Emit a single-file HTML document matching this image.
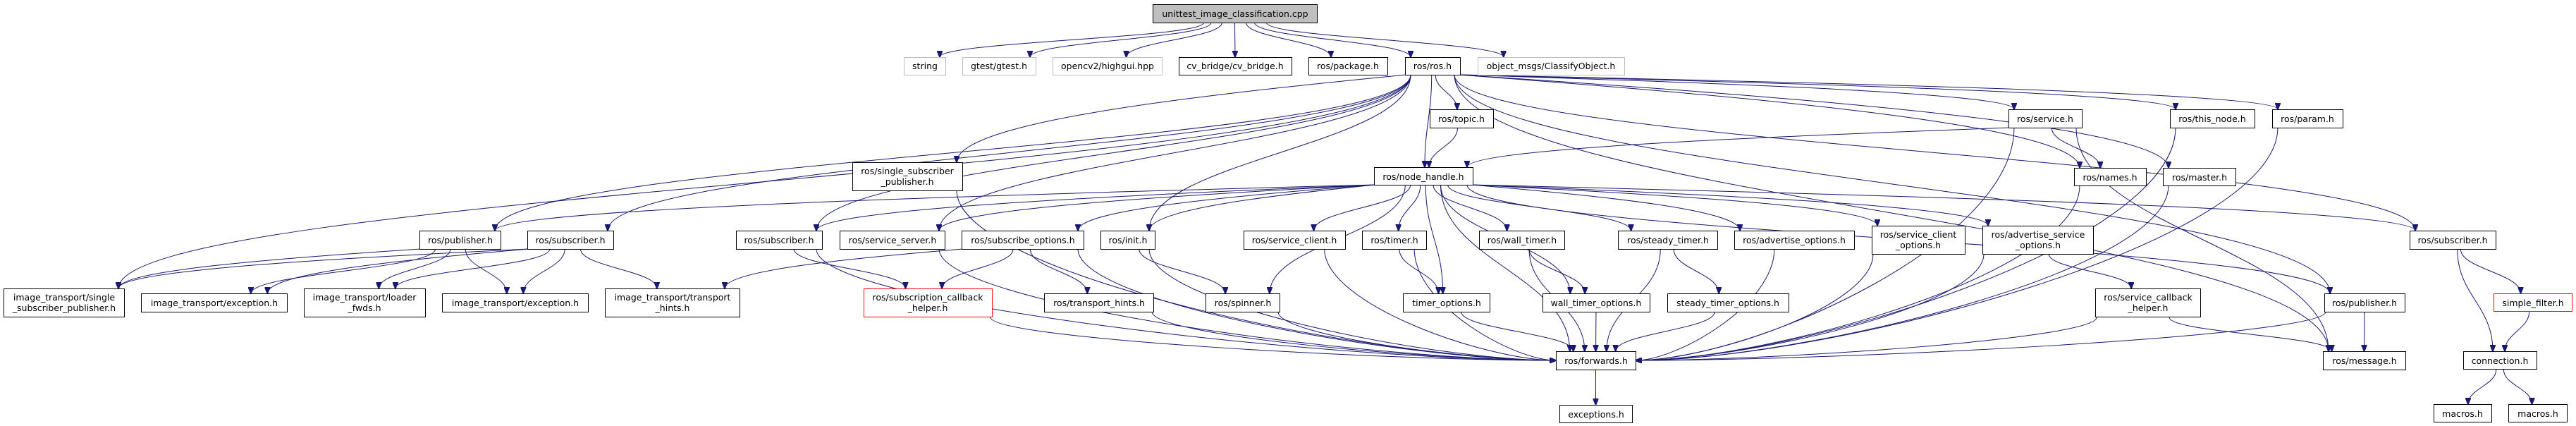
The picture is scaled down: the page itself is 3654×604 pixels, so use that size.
<!DOCTYPE html>
<html><head><meta charset="utf-8"><style>
html,body{margin:0;padding:0;background:#fff}
svg{display:block}
text{font-family:"DejaVu Sans","Liberation Sans",sans-serif;font-size:12.5px;fill:#000;text-anchor:middle}
.b{fill:#fff;stroke:#000;stroke-width:1}
.g{fill:#fff;stroke:#bfbfbf;stroke-width:1}
.r{fill:#fff;stroke:#ff0000;stroke-width:1}
.m{fill:#bfbfbf;stroke:#000;stroke-width:1}
.e{fill:none;stroke:#191970;stroke-width:1}
</style></head><body>
<svg id="s" width="3654" height="604" viewBox="0 0 3654 604" xmlns="http://www.w3.org/2000/svg">
<defs><marker id="a" markerWidth="10" markerHeight="8" refX="9" refY="4" orient="auto" markerUnits="userSpaceOnUse"><path d="M0,0 L10,4 L0,8 z" fill="#191970" stroke="#191970"/></marker></defs>
<g id="edges"></g>
<g id="nodes">
<rect class="m" x="1635.5" y="6.5" width="233" height="26"/><text x="1752" y="24">unittest_image_classification.cpp</text>
<rect class="g" x="1282.5" y="81.5" width="59" height="25"/><text x="1312" y="98">string</text>
<rect class="g" x="1365.5" y="81.5" width="104" height="25"/><text x="1417" y="98">gtest/gtest.h</text>
<rect class="g" x="1493.5" y="81.5" width="155" height="25"/><text x="1571" y="98">opencv2/highgui.hpp</text>
<rect class="b" x="1672.5" y="81.5" width="160" height="25"/><text x="1752" y="98">cv_bridge/cv_bridge.h</text>
<rect class="b" x="1856.5" y="81.5" width="112" height="25"/><text x="1912" y="98">ros/package.h</text>
<rect class="b" x="1993.5" y="81.5" width="78" height="25"/><text x="2032" y="98">ros/ros.h</text>
<rect class="g" x="2096.5" y="81.5" width="208" height="25"/><text x="2200" y="98">object_msgs/ClassifyObject.h</text>
<rect class="b" x="2028.5" y="155.5" width="90" height="26"/><text x="2073" y="173">ros/topic.h</text>
<rect class="b" x="2849.5" y="155.5" width="104" height="26"/><text x="2901" y="173">ros/service.h</text>
<rect class="b" x="3078.5" y="155.5" width="120" height="26"/><text x="3138" y="173">ros/this_node.h</text>
<rect class="b" x="3223.5" y="155.5" width="100" height="26"/><text x="3273" y="173">ros/param.h</text>
<rect class="b" x="1209.5" y="230.5" width="156" height="40"/><text x="1287" y="247">ros/single_subscriber</text><text x="1287" y="262">_publisher.h</text>
<rect class="b" x="1949.5" y="237.5" width="140" height="25"/><text x="2019" y="255">ros/node_handle.h</text>
<rect class="b" x="2942.5" y="238.5" width="102" height="25"/><text x="2993" y="256">ros/names.h</text>
<rect class="b" x="3068.5" y="238.5" width="103" height="25"/><text x="3120" y="256">ros/master.h</text>
<rect class="b" x="595.5" y="327.5" width="115" height="26"/><text x="653" y="345">ros/publisher.h</text>
<rect class="b" x="748.5" y="327.5" width="122" height="26"/><text x="809" y="345">ros/subscriber.h</text>
<rect class="b" x="1044.5" y="327.5" width="122" height="26"/><text x="1105" y="345">ros/subscriber.h</text>
<rect class="b" x="1191.5" y="327.5" width="149" height="26"/><text x="1266" y="345">ros/service_server.h</text>
<rect class="b" x="1364.5" y="327.5" width="173" height="26"/><text x="1451" y="345">ros/subscribe_options.h</text>
<rect class="b" x="1561.5" y="327.5" width="77" height="26"/><text x="1600" y="345">ros/init.h</text>
<rect class="b" x="1764.5" y="327.5" width="144" height="26"/><text x="1836" y="345">ros/service_client.h</text>
<rect class="b" x="1932.5" y="327.5" width="91" height="26"/><text x="1978" y="345">ros/timer.h</text>
<rect class="b" x="2098.5" y="327.5" width="121" height="26"/><text x="2159" y="345">ros/wall_timer.h</text>
<rect class="b" x="2295.5" y="327.5" width="141" height="26"/><text x="2366" y="345">ros/steady_timer.h</text>
<rect class="b" x="2460.5" y="327.5" width="170" height="26"/><text x="2545" y="345">ros/advertise_options.h</text>
<rect class="b" x="2655.5" y="320.5" width="132" height="40"/><text x="2721" y="337">ros/service_client</text><text x="2721" y="352">_options.h</text>
<rect class="b" x="2812.5" y="320.5" width="157" height="40"/><text x="2891" y="337">ros/advertise_service</text><text x="2891" y="352">_options.h</text>
<rect class="b" x="3418.5" y="327.5" width="122" height="26"/><text x="3479" y="345">ros/subscriber.h</text>
<rect class="b" x="5.5" y="409.5" width="171" height="40"/><text x="91" y="426">image_transport/single</text><text x="91" y="441">_subscriber_publisher.h</text>
<rect class="b" x="200.5" y="416.5" width="207" height="26"/><text x="304" y="434">image_transport/exception.h</text>
<rect class="b" x="431.5" y="409.5" width="172" height="40"/><text x="517" y="426">image_transport/loader</text><text x="517" y="441">_fwds.h</text>
<rect class="b" x="627.5" y="416.5" width="207" height="26"/><text x="731" y="434">image_transport/exception.h</text>
<rect class="b" x="858.5" y="409.5" width="191" height="40"/><text x="954" y="426">image_transport/transport</text><text x="954" y="441">_hints.h</text>
<rect class="r" x="1225.5" y="409.5" width="182" height="40"/><text x="1316" y="426">ros/subscription_callback</text><text x="1316" y="441">_helper.h</text>
<rect class="b" x="1481.5" y="416.5" width="155" height="26"/><text x="1559" y="434">ros/transport_hints.h</text>
<rect class="b" x="1710.5" y="416.5" width="105" height="26"/><text x="1763" y="434">ros/spinner.h</text>
<rect class="b" x="1990.5" y="416.5" width="123" height="26"/><text x="2052" y="434">timer_options.h</text>
<rect class="b" x="2188.5" y="416.5" width="152" height="26"/><text x="2264" y="434">wall_timer_options.h</text>
<rect class="b" x="2365.5" y="416.5" width="172" height="26"/><text x="2451" y="434">steady_timer_options.h</text>
<rect class="b" x="2972.5" y="409.5" width="149" height="40"/><text x="3047" y="426">ros/service_callback</text><text x="3047" y="441">_helper.h</text>
<rect class="b" x="3297.5" y="416.5" width="114" height="26"/><text x="3354" y="434">ros/publisher.h</text>
<rect class="r" x="3537.5" y="416.5" width="111" height="25"/><text x="3593" y="434">simple_filter.h</text>
<rect class="b" x="2207.5" y="498.5" width="113" height="26"/><text x="2264" y="516">ros/forwards.h</text>
<rect class="b" x="3295.5" y="498.5" width="117" height="26"/><text x="3354" y="516">ros/message.h</text>
<rect class="b" x="3494.5" y="498.5" width="104" height="25"/><text x="3546" y="516">connection.h</text>
<rect class="b" x="2212.5" y="574.5" width="103" height="25"/><text x="2264" y="592">exceptions.h</text>
<rect class="b" x="3452.5" y="573.5" width="82" height="25"/><text x="3493" y="591">macros.h</text>
<rect class="b" x="3558.5" y="573.5" width="83" height="25"/><text x="3600" y="591">macros.h</text>
</g>
</svg>
<script>
var N={
main:[1635,6,1868,32],string:[1282,81,1341,106],gtest:[1365,81,1469,106],highgui:[1493,81,1648,106],
cvb:[1672,81,1832,106],pkg:[1856,81,1968,106],ros:[1993,81,2071,106],cls:[2096,81,2304,106],
topic:[2028,155,2118,181],service:[2849,155,2953,181],thisnode:[3078,155,3198,181],param:[3223,155,3323,181],
ssp:[1209,230,1365,270],nh:[1949,237,2089,262],names:[2942,238,3044,263],master:[3068,238,3171,263],
pub1:[595,327,710,353],sub1:[748,327,870,353],sub2:[1044,327,1166,353],ss:[1191,327,1340,353],
so:[1364,327,1537,353],init:[1561,327,1638,353],sc:[1764,327,1908,353],timer:[1932,327,2023,353],
wt:[2098,327,2219,353],st:[2295,327,2436,353],ao:[2460,327,2630,353],sco:[2655,320,2787,360],
aso:[2812,320,2969,360],sub3:[3418,327,3540,353],
itssp:[5,409,176,450],itex1:[200,416,407,442],itlf:[431,409,603,450],itex2:[627,416,834,442],
itth:[858,409,1049,450],sch:[1225,409,1407,450],th:[1481,416,1636,442],spin:[1710,416,1815,442],
to:[1990,416,2113,442],wto:[2188,416,2340,442],sto:[2365,416,2537,442],svch:[2972,409,3121,450],
pub2:[3297,416,3411,442],sf:[3537,416,3648,441],fw:[2207,498,2320,524],msg:[3295,498,3412,524],
conn:[3494,498,3598,524],exc:[2212,574,2315,599],mac1:[3452,573,3534,598],mac2:[3558,573,3641,598]};
var E=[
["main","string"],["main","gtest"],["main","highgui"],["main","cvb"],["main","pkg"],["main","ros"],["main","cls"],
["ros","itssp"],["ros","pub1"],["ros","sub1"],["ros","sub2"],["ros","ss"],["ros","ssp"],["ros","init"],
["ros","nh"],["ros","topic"],["ros","service"],["ros","names"],["ros","thisnode"],["ros","param"],["ros","master"],
["ros","pub2"],["ros","sub3"],["ros","msg"],["topic","nh"],["service","nh"],["service","names"],["service","fw"],["service","msg"],
["nh","pub1"],["nh","sub2"],["nh","ss"],["nh","so"],["nh","init"],["nh","spin"],["nh","sc"],["nh","timer"],["nh","to"],
["nh","wt"],["nh","wto"],["nh","st"],["nh","ao"],["nh","sco"],["nh","aso"],["nh","sub3"],["nh","pub2"],["nh","fw"],
["pub1","itssp"],["pub1","itex1"],["pub1","itlf"],["pub1","itex2"],
["sub1","itssp"],["sub1","itex1"],["sub1","itlf"],["sub1","itex2"],["sub1","itth"],
["sub2","sch"],["sub2","fw"],["ss","fw"],["so","itth"],["so","sch"],["so","th"],["so","fw"],
["init","spin"],["init","fw"],["sc","fw"],["timer","to"],["timer","fw"],["wt","wto"],["wt","fw"],
["st","sto"],["st","fw"],["ao","fw"],["sco","fw"],["aso","svch"],["aso","fw"],["thisnode","fw"],["param","fw"],
["master","fw"],["names","fw"],["ssp","fw"],["sch","fw"],["th","fw"],["spin","fw"],["to","fw"],["wto","fw"],["sto","fw"],
["svch","fw"],["svch","msg"],["pub2","fw"],["pub2","msg"],["fw","exc"],["sub3","conn"],["sub3","sf"],["sf","conn"],
["conn","mac1"],["conn","mac2"]];
var g=document.getElementById("edges"),h="";
E.forEach(function(e){var s=N[e[0]],t=N[e[1]];
 var scx=(s[0]+s[2])/2,tcx=(t[0]+t[2])/2;
 var dx=tcx-scx, dy=t[1]-s[3];
 var sx,sy,tx,ty,p,side=false;
 if(Math.abs(dx)>400 && dy<140 && e[0]!=="main"){
   sx=(dx>0)?s[2]-2:s[0]+2; sy=s[3]; side=true;
 } else {
   sx=scx+dx*0.1; sx=Math.max(s[0]+8,Math.min(s[2]-8,sx)); sy=s[3];
 }
 if(e[1]==="fw" && Math.abs(dx)>250){
   tx=(dx>0)?t[0]:t[2]; ty=(t[1]+t[3])/2;
   p="M"+sx+","+sy+" C"+sx+","+(sy+(ty-sy)*0.5)+" "+(tx+(sx-tx)*0.3)+","+ty+" "+tx+","+ty;
 } else {
   tx=tcx-dx*0.15; tx=Math.max(t[0]+8,Math.min(t[2]-8,tx)); ty=t[1];
   var d=(ty-sy)*0.45;
   var c1x=sx, c1y=sy+d;
   if(side){c1x=sx+(tx-sx)*0.5; c1y=sy+(ty-sy)*0.25;}
   p="M"+sx+","+sy+" C"+c1x+","+c1y+" "+tx+","+(ty-d)+" "+tx+","+ty;
 }
 h+='<path class="e" d="'+p+'" marker-end="url(#a)"/>';
});
g.innerHTML=h;
</script>
</body></html>
